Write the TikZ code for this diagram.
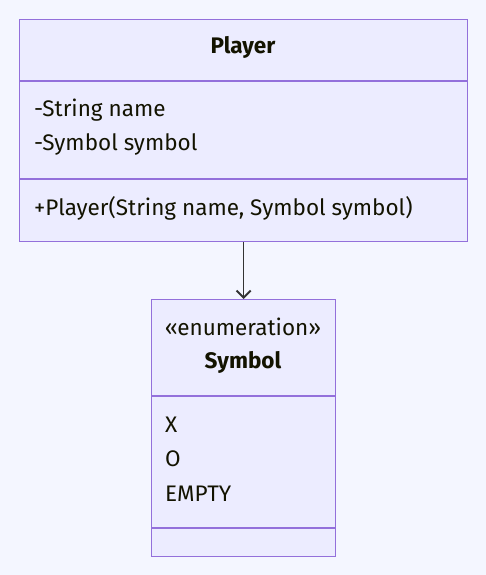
\documentclass[tikz,border=0pt]{standalone}
\usepackage{fontspec}
\setmainfont{Fira Sans}
\usetikzlibrary{arrows.meta}

\definecolor{bgcol}{HTML}{F4F6FF}
\definecolor{boxfill}{HTML}{ECECFF}
\definecolor{boxline}{HTML}{9370DB}
\definecolor{txtcol}{HTML}{131300}
\definecolor{edgecol}{HTML}{333333}

\tikzset{
  classbox/.style={draw=boxline,fill=boxfill,line width=1.3pt,anchor=north west,inner sep=0pt},
  sepline/.style={boxline,line width=1.3pt},
  classtitle/.style={text=txtcol,font=\fontsize{22.5}{27}\selectfont\bfseries,inner sep=0pt},
  stereo/.style={text=txtcol,font=\fontsize{22.5}{27}\selectfont,inner sep=0pt},
  member/.style={text=txtcol,font=\fontsize{22.5}{27}\selectfont,anchor=west,inner sep=0pt},
}

\begin{document}
\begin{tikzpicture}[x=1pt,y=-1pt]

%BACKGROUND
\fill[bgcol] (0,0) rectangle (486,575);
\useasboundingbox (0,0) rectangle (486,575);
%BACKGROUND

\node[classbox,minimum width=448pt,minimum height=222pt](player) at (19,19) {};
\node[classbox,minimum width=184pt,minimum height=257pt](symbol) at (151,299) {};

\draw[sepline] (19,81) -- (467,81);
\draw[sepline] (19,179) -- (467,179);
\draw[sepline] (151,396) -- (335,396);
\draw[sepline] (151,528) -- (335,528);

\node[classtitle](player_title) at (243,47) {Player};
\node[member](player_name) at (34,110) {-String name};
\node[member](player_symbol) at (34,144) {-Symbol symbol};
\node[member](player_ctor) at (34,208) {+Player(String name, Symbol symbol)};

\node[stereo](symbol_stereo) at (243,327) {«enumeration»};
\node[classtitle](symbol_title) at (243,362) {Symbol};
\node[member](symbol_x) at (165,425) {X};
\node[member](symbol_o) at (165,459) {O};
\node[member](symbol_empty) at (165,494) {EMPTY};

\draw[-{Straight Barb[length=7pt,width=14pt,line width=2pt]},edgecol,line width=1.5pt] (player.south) -- (symbol.north);

\end{tikzpicture}
\end{document}
